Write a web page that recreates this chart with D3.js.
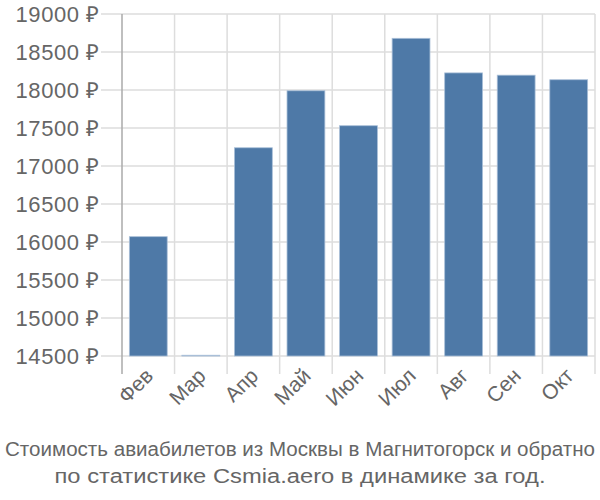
<script src="https://d3js.org/d3.v7.min.js"></script>
<style>
  body { margin: 0; background: #fff; }
  text { font-family: "Liberation Sans", Arial, sans-serif; fill: #666; }
</style>
<svg width=600 height=500></svg>
<script>
var months = ["Фев", "Мар", "Апр", "Май", "Июн", "Июл", "Авг", "Сен", "Окт"]
var prices = [16070, 14510, 17240, 17990, 17530, 18680, 18225, 18195, 18135]
var yTicks = [14500, 15000, 15500, 16000, 16500, 17000, 17500, 18000, 18500, 19000]
var titleLines = ["Стоимость авиабилетов из Москвы в Магнитогорск и обратно",
                  "по статистике Csmia.aero в динамике за год."]
var titleWidths = [590, 491]

var svg = d3.select('svg')
var mLeft = 122, mRight = 595, mTop = 14, mBottom = 356

var x = d3.scaleBand().domain(months).range([mLeft, mRight]).padding(0)
var y = d3.scaleLinear().domain([14500, 19000]).range([mBottom, mTop])

  // horizontal grid + y labels
  svg.selectAll('.hgrid')
    .data(yTicks)
    .enter()
    .append('line')
    .attr('x1', mLeft - 21)
    .attr('x2', mRight)
    .attr('y1', d => y(d))
    .attr('y2', d => y(d))
    .attr('stroke', '#ddd')
    .attr('stroke-width', 1.5)

  svg.selectAll('.ylab')
    .data(yTicks)
    .enter()
    .append('text')
    .attr('x', mLeft - 22)
    .attr('y', d => y(d))
    .attr('dy', '0.36em')
    .attr('text-anchor', 'end')
    .style('font-size', '22px')
    .style('letter-spacing', '0.6px')
    .text(d => d + ' ₽')

  // vertical grid at band edges
  svg.selectAll('.vgrid')
    .data(months)
    .enter()
    .append('line')
    .attr('x1', d => x(d) + x.step())
    .attr('x2', d => x(d) + x.step())
    .attr('y1', mTop)
    .attr('y2', mBottom + 18)
    .attr('stroke', '#ddd')
    .attr('stroke-width', 1.5)

  // bars
  svg.selectAll('.bar')
    .data(months)
    .enter()
    .append('rect')
    .attr('x', d => x(d) + x.bandwidth() * 0.14)
    .attr('width', x.bandwidth() * 0.72)
    .attr('y', (d, i) => y(prices[i]))
    .attr('height', (d, i) => mBottom - y(prices[i]))
    .attr('fill', '#4e79a7')
    .attr('stroke', '#a9bfd8')
    .attr('stroke-width', 0.8)

  // y axis line
  svg.append('line')
    .attr('x1', mLeft).attr('x2', mLeft)
    .attr('y1', mTop).attr('y2', mBottom + 18)
    .attr('stroke', '#aaa')
    .attr('stroke-width', 1.5)

  // x labels
  svg.selectAll('.xlab')
    .data(months)
    .enter()
    .append('text')
    .attr('transform', d => 'translate(' + (x(d) + x.bandwidth() / 2 - 5) + ',' + (mBottom + 10) + ') rotate(-45)')
    .attr('text-anchor', 'end')
    .attr('dy', '0.75em')
    .style('font-size', '21px')
    .text(d => d)

  // title
  svg.selectAll('.title')
    .data(titleLines)
    .enter()
    .append('text')
    .attr('x', 300)
    .attr('y', (d, i) => 456 + i * 27)
    .attr('text-anchor', 'middle')
    .attr('textLength', (d, i) => titleWidths[i])
    .attr('lengthAdjust', 'spacingAndGlyphs')
    .style('font-size', '20px')
    .style('font-family', '"Liberation Sans Narrow", "Liberation Sans", sans-serif')
    .text(d => d)
</script>
